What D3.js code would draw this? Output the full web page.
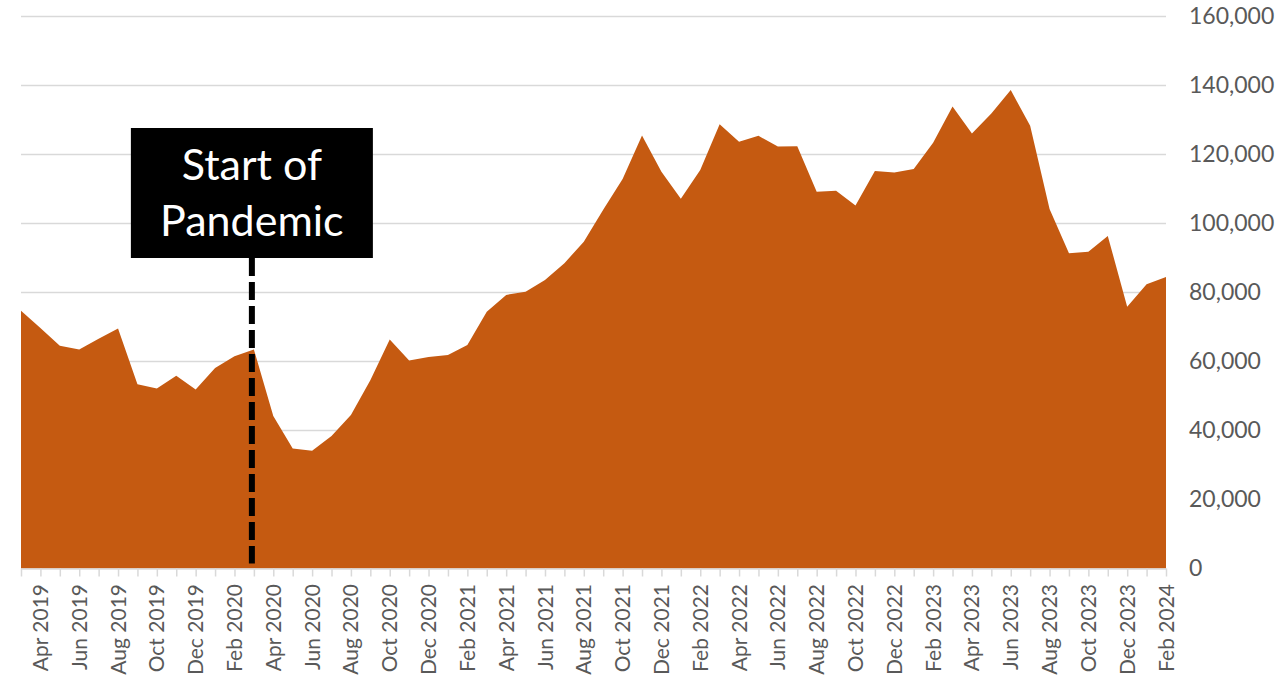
<!DOCTYPE html>
<html>
<head>
<meta charset="utf-8">
<script src="https://cdn.jsdelivr.net/npm/d3@7"></script>
<style>
  html, body { margin: 0; padding: 0; background: #ffffff; }
  svg { display: block; }
</style>
</head>
<body>
<svg id="chart" width="1276" height="678"></svg>
<script>
// Monthly totals, Mar 2019 – Feb 2024
const months = [
  "Mar 2019","Apr 2019","May 2019","Jun 2019","Jul 2019","Aug 2019","Sep 2019","Oct 2019","Nov 2019","Dec 2019",
  "Jan 2020","Feb 2020","Mar 2020","Apr 2020","May 2020","Jun 2020","Jul 2020","Aug 2020","Sep 2020","Oct 2020","Nov 2020","Dec 2020",
  "Jan 2021","Feb 2021","Mar 2021","Apr 2021","May 2021","Jun 2021","Jul 2021","Aug 2021","Sep 2021","Oct 2021","Nov 2021","Dec 2021",
  "Jan 2022","Feb 2022","Mar 2022","Apr 2022","May 2022","Jun 2022","Jul 2022","Aug 2022","Sep 2022","Oct 2022","Nov 2022","Dec 2022",
  "Jan 2023","Feb 2023","Mar 2023","Apr 2023","May 2023","Jun 2023","Jul 2023","Aug 2023","Sep 2023","Oct 2023","Nov 2023","Dec 2023",
  "Jan 2024","Feb 2024"
];

const values = [
  74700, 69700, 64600, 63500, 66600, 69600, 53400, 52200, 55900, 51900,
  58100, 61500, 63500, 44200, 34800, 34100, 38400, 44500, 54600, 66400, 60300, 61300,
  61900, 64800, 74400, 79300, 80200, 83600, 88500, 94700, 104000, 112900, 125500, 115000,
  107200, 115500, 128800, 123700, 125400, 122300, 122400, 109200, 109500, 105200, 115200, 114800,
  115800, 123400, 133900, 126100, 131900, 138700, 128300, 104200, 91400, 91800, 96400, 75900,
  82400, 84500
];

// Every second month is labelled on the category axis
const tickLabels = [
  "Apr 2019","Jun 2019","Aug 2019","Oct 2019","Dec 2019","Feb 2020","Apr 2020","Jun 2020",
  "Aug 2020","Oct 2020","Dec 2020","Feb 2021","Apr 2021","Jun 2021","Aug 2021","Oct 2021",
  "Dec 2021","Feb 2022","Apr 2022","Jun 2022","Aug 2022","Oct 2022","Dec 2022","Feb 2023",
  "Apr 2023","Jun 2023","Aug 2023","Oct 2023","Dec 2023","Feb 2024"
];

const yTicks = [0, 20000, 40000, 60000, 80000, 100000, 120000, 140000, 160000];

const eventMonth = "Mar 2020";
const eventLines = ["Start of", "Pandemic"];

const data = months.map((m, i) => ({ month: m, value: values[i] }));

const svg = d3.select("#chart");
const FONT = "Lato, 'Liberation Sans', Arial, sans-serif";

const x = d3.scalePoint().domain(months).range([21, 1166]);
const y = d3.scaleLinear().domain([0, 160000]).range([568.5, 16.5]);

// horizontal gridlines
svg.append("g")
  .selectAll("line")
  .data(yTicks.filter(d => d > 0))
  .join("line")
  .attr("x1", x.range()[0])
  .attr("x2", x.range()[1])
  .attr("y1", d => y(d))
  .attr("y2", d => y(d))
  .attr("stroke", "#d9d9d9")
  .attr("stroke-width", 1.5);

// filled area
const area = d3.area()
  .x(d => x(d.month))
  .y0(y(0))
  .y1(d => y(d.value));

svg.append("path")
  .datum(data)
  .attr("d", area)
  .attr("fill", "#c55a11");

// category axis
const xAxis = d3.axisBottom(x)
  .tickSizeInner(8)
  .tickSizeOuter(0)
  .tickFormat("");

const gx = svg.append("g")
  .attr("transform", `translate(0,${y(0)})`)
  .call(xAxis);
gx.select(".domain").attr("stroke", "#d9d9d9").attr("stroke-width", 1.5);
gx.selectAll(".tick line").attr("stroke", "#d9d9d9").attr("stroke-width", 1.5);

svg.append("g")
  .selectAll("text")
  .data(tickLabels)
  .join("text")
  .attr("transform", d => `translate(${x(d)},584) rotate(-90)`)
  .attr("text-anchor", "end")
  .attr("dy", "0.36em")
  .attr("font-family", FONT)
  .attr("font-size", 21)
  .attr("fill", "#595959")
  .text(d => d);

// value axis labels on the right
const yAxis = d3.axisRight(y)
  .tickValues(yTicks)
  .tickSize(0)
  .tickPadding(0)
  .tickFormat(d3.format(","));

const gy = svg.append("g")
  .attr("transform", "translate(1189,0)")
  .call(yAxis);
gy.select(".domain").remove();
gy.selectAll("text")
  .attr("font-family", FONT)
  .attr("font-size", 23)
  .attr("fill", "#595959");

// event marker: dashed line with label box
const ex = x(eventMonth) - 2;
svg.append("line")
  .attr("x1", ex).attr("x2", ex)
  .attr("y1", 258).attr("y2", y(0) - 5)
  .attr("stroke", "#000")
  .attr("stroke-width", 6)
  .attr("stroke-dasharray", "18,6");

svg.append("rect")
  .attr("x", ex - 121)
  .attr("y", 128)
  .attr("width", 242)
  .attr("height", 130)
  .attr("fill", "#000");

svg.append("g")
  .selectAll("text")
  .data(eventLines)
  .join("text")
  .attr("x", ex)
  .attr("y", (d, i) => 180 + i * 56)
  .attr("text-anchor", "middle")
  .attr("font-family", FONT)
  .attr("font-size", 43)
  .attr("fill", "#fff")
  .text(d => d);
</script>
</body>
</html>
